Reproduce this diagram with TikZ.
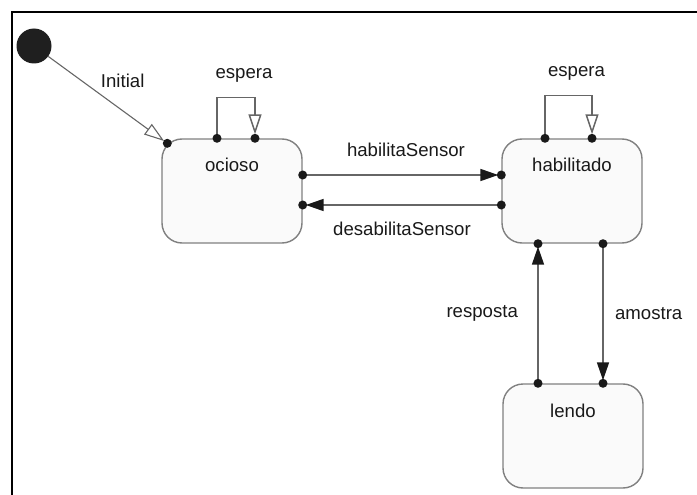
\documentclass[tikz,border=0pt]{standalone}
\usepackage{fontspec}
\setmainfont{Liberation Sans}
\usetikzlibrary{arrows.meta,calc}

\definecolor{boxgray}{HTML}{808080}
\definecolor{boxfill}{HTML}{FAFAFA}
\definecolor{linegray}{HTML}{666666}

\tikzset{
  state/.style={draw=boxgray, fill=boxfill, rounded corners=20pt,
    minimum width=140pt, minimum height=104pt, line width=1.4pt, inner sep=0pt},
  evt/.style={font=\fontsize{18.6}{20}\selectfont, text=black!90},
  trans/.style={draw=linegray, line width=1.6pt,
    -{Triangle[length=18pt,width=12pt,color=black!90]}, shorten >=3pt},
  selftrans/.style={draw=linegray, line width=1.5pt,
    -{Triangle[open,length=20pt,width=13pt,fill=white]}, shorten >=4pt},
  pin/.style={fill=black!90},
}

\begin{document}
\begin{tikzpicture}[x=1pt,y=-1pt]
    \useasboundingbox (0,0) rectangle (697,495);
    \draw[line width=2pt] (12,495) -- (12,12) -- (697,12);

    % states
    \node[circle, fill=black!88, minimum size=35pt, inner sep=0pt] (init) at (34,46) {};
    \node[state, label={[evt,anchor=base,yshift=-33pt]north:ocioso}] (ocioso) at (232,191) {};
    \node[state, label={[evt,anchor=base,yshift=-33pt]north:habilitado}] (habilitado) at (572,191) {};
    \node[state, label={[evt,anchor=base,yshift=-34pt]north:lendo}] (lendo) at (573,436) {};

    % connector ends
    \coordinate (o-in) at ($(ocioso.north west)+(6,5)$);
    \coordinate (o-l1) at ($(ocioso.north)+(-15,0)$);
    \coordinate (o-l2) at ($(ocioso.north)+(23,0)$);
    \coordinate (h-l1) at ($(habilitado.north)+(-27,0)$);
    \coordinate (h-l2) at ($(habilitado.north)+(20,0)$);
    \coordinate (o-out) at ($(ocioso.east)+(0,-16)$);
    \coordinate (o-back) at ($(ocioso.east)+(0,14)$);
    \coordinate (l-up) at ($(lendo.north)+(-35,0)$);
    \coordinate (h-down) at ($(habilitado.south)+(31,0)$);

    % transitions
    \draw[selftrans, line width=1.1pt] (init) -- node[evt, pos=0.41, anchor=south west] {Initial} (o-in);
    \draw[selftrans] (o-l1) -- ++(0,-41) -| node[evt, pos=0.25, above=11pt, xshift=8pt] {espera} (o-l2);
    \draw[selftrans] (h-l1) -- ++(0,-43) -| node[evt, pos=0.25, above=11pt, xshift=8pt] {espera} (h-l2);
    \draw[trans] (o-out) -- node[evt, above=14pt, xshift=4pt] {habilitaSensor} (o-out -| habilitado.west);
    \draw[trans] (o-back -| habilitado.west) -- node[evt, below=13pt] {desabilitaSensor} (o-back);
    \draw[trans] (l-up) -- node[evt, left=16pt] {resposta} (l-up |- habilitado.south);
    \draw[trans] (h-down) -- node[evt, right=8pt] {amostra} (h-down |- lendo.north);

    % dots on the state borders
    \foreach \p in {o-in, o-l1, o-l2, h-l1, h-l2, o-out, o-back, l-up, h-down}
        \fill[pin] (\p) circle (4.5pt);
    \fill[pin] (o-out -| habilitado.west) circle (4.5pt);
    \fill[pin] (o-back -| habilitado.west) circle (4.5pt);
    \fill[pin] (l-up |- habilitado.south) circle (4.5pt);
    \fill[pin] (h-down |- lendo.north) circle (4.5pt);
\end{tikzpicture}
\end{document}
